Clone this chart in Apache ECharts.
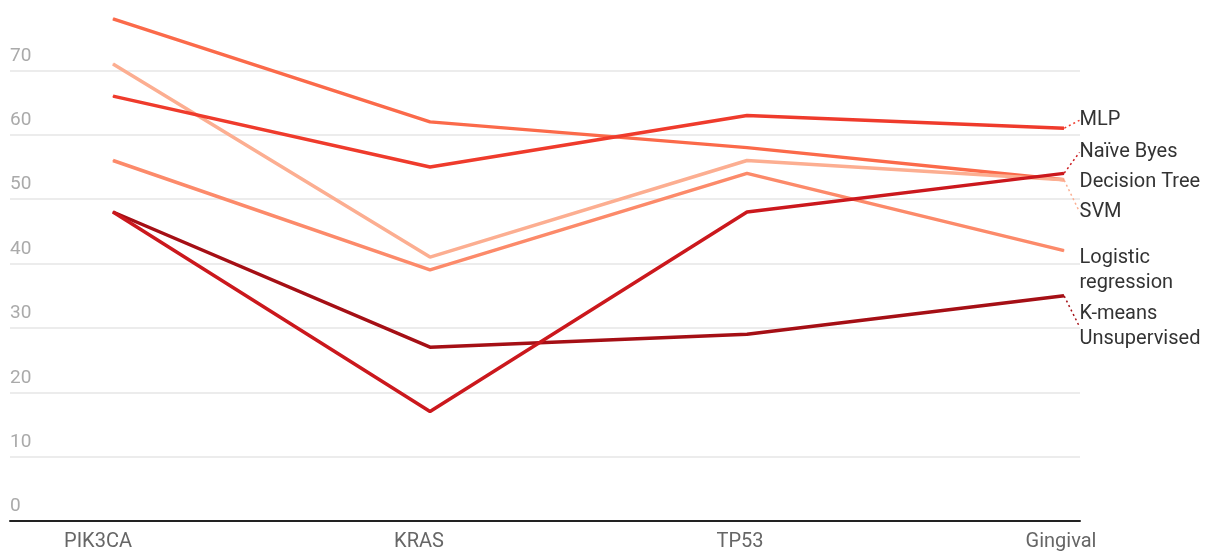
<!DOCTYPE html>
<html>
<head>
<meta charset="utf-8">
<script src="https://cdn.jsdelivr.net/npm/echarts@6/dist/echarts.min.js"></script>
<style>
  html, body { margin: 0; padding: 0; background: #fff; }
  #chart { width: 1208px; height: 554px; }
</style>
</head>
<body>
<div id="chart"></div>
<script>
// data
const genes = ['PIK3CA', 'KRAS', 'TP53', 'Gingival'];
const decisionTree = [78, 62, 58, 53];
const svm = [71, 41, 56, 53];
const mlp = [66, 55, 63, 61];
const logistic = [56, 39, 54, 42];
const kmeans = [48, 27, 29, 35];
const naiveByes = [48, 17, 48, 54];
const yTicks = [0, 10, 20, 30, 40, 50, 60, 70];

const chart = echarts.init(document.getElementById('chart'), null, { renderer: 'canvas' });

function line(name, label, data, color, dy, guide) {
  return {
    name: name,
    type: 'line',
    xAxisIndex: 1,
    yAxisIndex: 1,
    data: data.map((v, i) => ({
      value: v,
      label: { show: i === data.length - 1 }
    })),
    symbol: 'circle',
    symbolSize: 1,
    showSymbol: true,
    lineStyle: { color: color, width: 3.5 },
    itemStyle: { color: color },
    label: {
      position: 'right',
      distance: 15,
      formatter: label,
      color: '#333',
      fontFamily: 'Roboto',
      fontSize: 20,
      lineHeight: 25
    },
    labelLayout: { dy: dy },
    labelLine: {
      show: guide,
      lineStyle: { color: color, type: [2, 3], width: 1.5 }
    },
    emphasis: { disabled: true },
    animation: false
  };
}

chart.setOption({
  backgroundColor: '#fff',
  grid: [
    { left: 10, right: 128, top: 6, bottom: 33 },
    { left: 113, right: 144, top: 6, bottom: 33 }
  ],
  xAxis: [
    {
      gridIndex: 0, type: 'value', min: 0, max: 1,
      axisLine: { show: true, onZero: false, lineStyle: { color: '#222', width: 2 } },
      axisTick: { show: false }, axisLabel: { show: false }, splitLine: { show: false }
    },
    {
      gridIndex: 1, type: 'category', data: genes, boundaryGap: false,
      axisLine: { show: false }, axisTick: { show: false },
      axisLabel: {
        color: '#666', fontFamily: 'Roboto', fontSize: 20, margin: 11,
        formatter: (v, i) => '{g' + i + '|' + v + '}',
        rich: {
          g0: { padding: [0, 30, 0, 0] },
          g1: { padding: [0, 22, 0, 0] },
          g2: { padding: [0, 14, 0, 0] },
          g3: { padding: [0, 6, 0, 0] }
        }
      },
      splitLine: { show: false }
    }
  ],
  yAxis: [
    {
      gridIndex: 0, type: 'value', min: 0, max: 80, interval: 10,
      axisLine: { show: false }, axisTick: { show: false },
      axisLabel: {
        inside: true, margin: 0, verticalAlign: 'bottom', padding: [0, 0, 5, 0],
        color: '#aaa', fontFamily: 'Roboto', fontSize: 19,
        formatter: v => (yTicks.includes(v) ? String(v) : '')
      },
      splitLine: { show: true, showMaxLine: false, lineStyle: { color: '#e6e6e6', width: 1.5 } }
    },
    {
      gridIndex: 1, type: 'value', min: 0, max: 80, show: false
    }
  ],
  series: [
    line('Decision Tree', 'Decision Tree', decisionTree, '#fb6a4a', 2, false),
    line('SVM', 'SVM', svm, '#fcae91', 32, true),
    line('MLP', 'MLP', mlp, '#ef3b2c', -8, true),
    line('Logistic regression', 'Logistic\nregression', logistic, '#fc8a6a', 20, false),
    line('K-means Unsupervised', 'K-means\nUnsupervised', kmeans, '#a50f15', 31, true),
    line('Naïve Byes', 'Naïve Byes', naiveByes, '#cb181d', -21, true)
  ]
});
</script>
</body>
</html>
